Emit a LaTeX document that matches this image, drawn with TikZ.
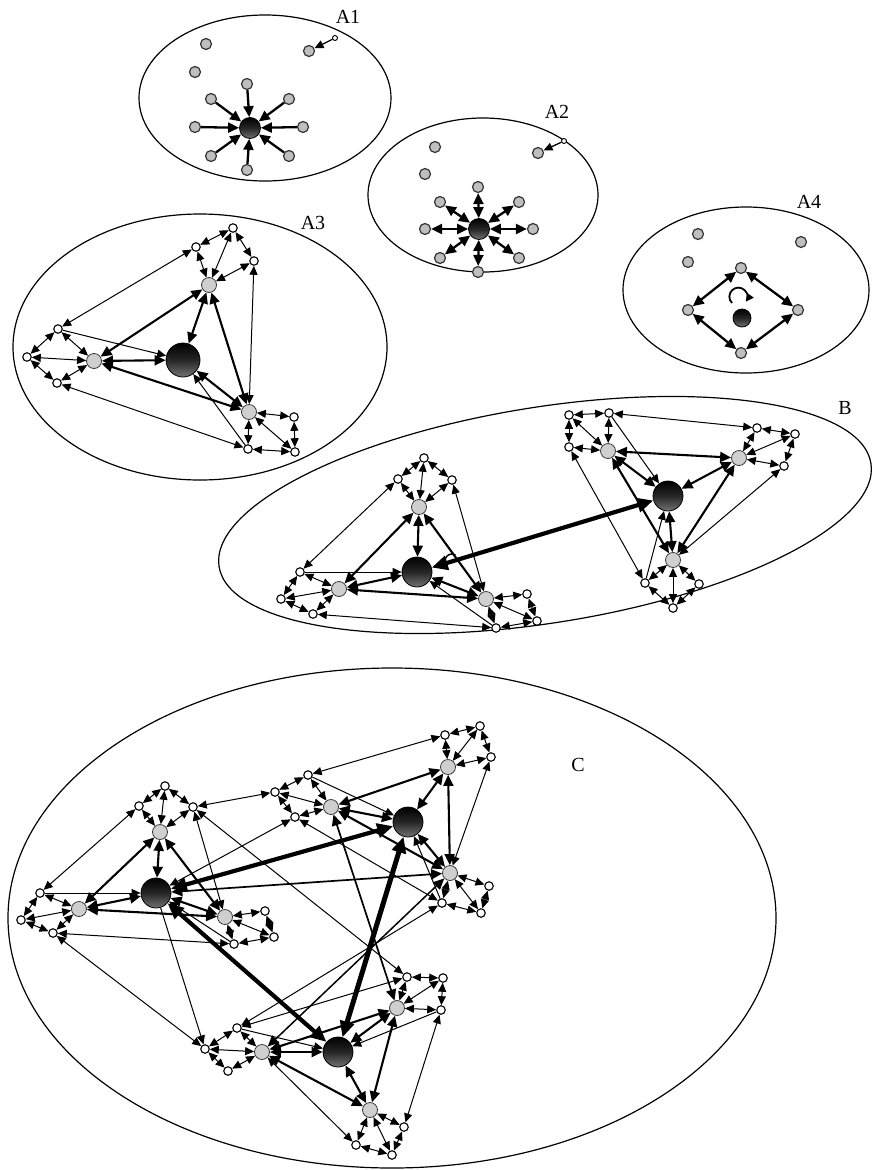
\documentclass[tikz,border=0pt]{standalone}
\usepackage{fontspec}
\setmainfont{Liberation Serif}
\usetikzlibrary{arrows.meta}
\pgfdeclarelayer{back}
\pgfsetlayers{back,main}
\tikzset{
  bk/.style={circle, top color=black, bottom color=black!55, middle color=black!85, draw=black, line width=0.8pt, minimum size=#1, inner sep=0pt},
  bk/.default=32pt,
  hub/.style={circle, fill=gray!38, draw=gray!45!black, line width=0.8pt, minimum size=15pt, inner sep=0pt},
  sm/.style={circle, fill=white, draw=black, line width=1.1pt, minimum size=8.5pt, inner sep=0pt},
  gn/.style={circle, fill=gray!50, draw=gray!40!black, line width=1.2pt, minimum size=11pt, inner sep=0pt},
  wn/.style={circle, fill=white, draw=black, line width=0.9pt, minimum size=5pt, inner sep=0pt},
  da/.style={line width=1pt, {Triangle[length=9pt,width=8pt]}-{Triangle[length=9pt,width=8pt]}},
  dm/.style={line width=2.1pt, {Triangle[length=11pt,width=10pt]}-{Triangle[length=11pt,width=10pt]}},
  dk/.style={line width=4.2pt, {Triangle[length=16pt,width=14pt]}-{Triangle[length=16pt,width=14pt]}},
  sk/.style={line width=2.3pt, -{Triangle[length=11pt,width=10pt]}},
  dd/.style={line width=2.3pt, {Triangle[length=11pt,width=10pt]}-{Triangle[length=11pt,width=10pt]}},
  sa/.style={line width=1pt, -{Triangle[length=9pt,width=8pt]}},
  lbl/.style={font=\fontsize{20}{22}\selectfont, inner sep=0pt},
  ell/.style={line width=1.2pt}
}
\newcommand{\clus}[5]{%
  \node[hub] (#1) at (#2) {};
  \node[sm] (#1a) at (#3) {};
  \node[sm] (#1b) at (#4) {};
  \node[sm] (#1c) at (#5) {};}
\newcommand{\clusE}[1]{%
  \draw[da] (#1)--(#1a); \draw[da] (#1)--(#1b); \draw[da] (#1)--(#1c);
  \draw[da] (#1a)--(#1b); \draw[da] (#1b)--(#1c);}
\newcommand{\triE}[4]{%
  \draw[dm] (#1)--(#2); \draw[dm] (#1)--(#3); \draw[dm] (#1)--(#4);
  \draw[dm] (#2)--(#3); \draw[dm] (#3)--(#4); \draw[dm] (#2)--(#4);}
\begin{document}
\begin{tikzpicture}[x=1pt,y=-1pt]
\useasboundingbox (0,0) rectangle (872,1170);
% ---------- ellipses ----------
\draw[ell] (265,98) ellipse [x radius=126, y radius=83];
\draw[ell] (483,195) ellipse [x radius=115, y radius=77];
\draw[ell] (746,290) ellipse [x radius=123, y radius=83];
\draw[ell] (200,347) ellipse [x radius=187, y radius=133];
\draw[ell, rotate around={9:(545,515)}] (545,515) ellipse [x radius=330, y radius=108];
\draw[ell] (392,918) ellipse [x radius=384, y radius=250];
% ---------- labels ----------
\node[lbl] (la1) at (348,17) {A1};
\node[lbl] (la2) at (557,112) {A2};
\node[lbl] (la4) at (809,202) {A4};
\node[lbl] (la3) at (313,223) {A3};
\node[lbl] (lb) at (845,408) {B};
\node[lbl] (lc) at (578,765) {C};
% ---------- A1 ----------
\node[bk=21pt] (a1k) at (250,128) {};
\node[gn] (a1n1) at (247,84) {};
\node[gn] (a1n2) at (289,99) {};
\node[gn] (a1n3) at (303,127) {};
\node[gn] (a1n4) at (289,156) {};
\node[gn] (a1n5) at (247,170) {};
\node[gn] (a1n6) at (211,156) {};
\node[gn] (a1n7) at (195,127) {};
\node[gn] (a1n8) at (211,99) {};
\node[gn] (a1e1) at (206,44) {};
\node[gn] (a1e2) at (195,72) {};
\node[gn] (a1e3) at (309,51) {};
\node[wn] (a1w) at (335,38) {};
% ---------- A2 ----------
\node[bk=21pt] (a2k) at (479,229) {};
\node[gn] (a2n1) at (478,187) {};
\node[gn] (a2n2) at (519,202) {};
\node[gn] (a2n3) at (533,229) {};
\node[gn] (a2n4) at (519,258) {};
\node[gn] (a2n5) at (478,272) {};
\node[gn] (a2n6) at (440,258) {};
\node[gn] (a2n7) at (425,229) {};
\node[gn] (a2n8) at (440,202) {};
\node[gn] (a2e1) at (435,147) {};
\node[gn] (a2e2) at (425,174) {};
\node[gn] (a2e3) at (538,153) {};
\node[wn] (a2w) at (564,141) {};
% ---------- A4 ----------
\node[bk=18pt] (a4k) at (742,318) {};
\node[gn] (a4e1) at (698,234) {};
\node[gn] (a4e2) at (801,242) {};
\node[gn] (a4e3) at (688,262) {};
\node[gn] (a4t) at (741,268) {};
\node[gn] (a4l) at (688,310) {};
\node[gn] (a4r) at (798,310) {};
\node[gn] (a4b) at (741,353) {};
% ---------- A3 ----------
\node[bk=34pt] (a3k) at (183,360) {};
\clus{a3t}{209,285}{196,247}{233,228}{254,261}
\clus{a3l}{94,361}{58,329}{27,357}{57,383}
\clus{a3r}{249,412}{294,417}{295,452}{248,449}
% ---------- B ----------
\node[bk=30pt] (bk1) at (417,572) {};
\clus{b1t}{419,507}{398,479}{424,458}{452,480}
\clus{b1l}{339,589}{300,572}{281,599}{313,614}
\clus{b1r}{486,599}{527,594}{537,621}{496,628}
\node[bk=30pt] (bk2) at (668,496) {};
\clus{b2l}{608,451}{569,447}{569,415}{609,413}
\clus{b2r}{739,458}{757,428}{795,434}{784,466}
\clus{b2b}{673,560}{645,583}{673,608}{699,584}
% ---------- C ----------
\node[bk=30pt] (c1k) at (156,893) {};
\clus{c1t}{160,832}{139,806}{165,786}{193,807}
\clus{c1l}{79,909}{40,893}{21,920}{53,933}
\clus{c1r}{225,917}{265,911}{274,937}{234,944}
\node[bk=30pt] (c2k) at (408,822) {};
\clus{c2l}{331,807}{308,775}{275,792}{295,817}
\clus{c2t}{448,767}{445,735}{480,726}{491,757}
\clus{c2b}{450,873}{489,886}{481,913}{442,903}
\node[bk=30pt] (c3k) at (338,1052) {};
\clus{c3l}{262,1052}{237,1028}{205,1049}{228,1071}
\clus{c3t}{397,1008}{407,977}{443,978}{441,1010}
\clus{c3b}{370,1110}{404,1127}{392,1155}{356,1145}
% ---------- edges ----------
\begin{pgfonlayer}{back}
  % A1
  \foreach \i in {1,...,8} {\draw[sk] (a1n\i) -- (a1k);}
  \draw[sa, line width=1.3pt] (a1w) -- (a1e3);
  % A2
  \foreach \i in {1,...,8} {\draw[dd] (a2n\i) -- (a2k);}
  \draw[sa, line width=1.3pt] (a2w) -- (a2e3);
  % A4
  \draw[dd] (a4t) -- (a4l);
  \draw[dd] (a4t) -- (a4r);
  \draw[dd] (a4l) -- (a4b);
  \draw[dd] (a4r) -- (a4b);
  \draw[line width=1.8pt, -{Triangle[length=8pt,width=8pt]}] (732,303) arc[start angle=135, end angle=395, radius=9];
  % A3
  \clusE{a3t} \clusE{a3l} \clusE{a3r}
  \triE{a3k}{a3t}{a3l}{a3r}
  \draw[da] (a3ta) -- (a3la);
  \draw[da] (a3tc) -- (a3r);
  \draw[sa] (a3la) -- (a3k);
  \draw[da] (a3lc) -- (a3rc);
  \draw[sa] (a3rc) -- (a3k);
  % B left
  \clusE{b1t} \clusE{b1l} \clusE{b1r}
  \triE{bk1}{b1t}{b1l}{b1r}
  \draw[da] (b1ta) -- (b1la);
  \draw[da] (b1tc) -- (b1r);
  \draw[sa] (b1la) -- (bk1);
  \draw[da] (b1lc) -- (b1rc);
  \draw[sa] (b1rc) -- (bk1);
  \draw[line width=1.5pt] (445,561) arc[start angle=180, end angle=300, radius=7];
  % B right
  \clusE{b2l} \clusE{b2r} \clusE{b2b}
  \triE{bk2}{b2l}{b2r}{b2b}
  \draw[da] (b2lc) -- (b2ra);
  \draw[sa] (b2lc) -- (bk2);
  \draw[da] (b2la) -- (b2ba);
  \draw[da] (b2rc) -- (b2b);
  \draw[sa] (b2ba) -- (bk2);
  \draw[dk] (bk1) -- (bk2);
  % C left
  \clusE{c1t} \clusE{c1l} \clusE{c1r}
  \triE{c1k}{c1t}{c1l}{c1r}
  \draw[da] (c1ta) -- (c1la);
  \draw[da] (c1tc) -- (c1r);
  \draw[sa] (c1la) -- (c1k);
  \draw[da] (c1lc) -- (c1rc);
  \draw[sa] (c1rc) -- (c1k);
  % C top right
  \clusE{c2l} \clusE{c2t} \clusE{c2b}
  \triE{c2k}{c2l}{c2t}{c2b}
  \draw[da] (c2ta) -- (c2la);
  \draw[da] (c2tc) -- (c2b);
  \draw[sa] (c2la) -- (c2k);
  \draw[da] (c2lc) -- (c2bc);
  \draw[sa] (c2bc) -- (c2k);
  % C bottom
  \clusE{c3l} \clusE{c3t} \clusE{c3b}
  \triE{c3k}{c3l}{c3t}{c3b}
  \draw[da] (c3la) -- (c3ta);
  \draw[da] (c3tc) -- (c3ba);
  \draw[sa] (c3la) -- (c3k);
  \draw[da] (c3l) -- (c3bc);
  \draw[sa] (c3tc) -- (c3k);
  % C cross links
  \draw[dk] (c1k) -- (c2k);
  \draw[dk] (c1k) -- (c3k);
  \draw[dk, line width=5pt] (c2k) -- (c3k);
  \draw[da] (c1tc) -- (c2lb);
  \draw[da] (c1k) -- (c2lc);
  \draw[dm, line width=1.7pt] (c1k) -- (c2b);
  \draw[da] (c1tc) -- (c3ta);
  \draw[dm, line width=1.7pt] (c2l) -- (c3t);
  \draw[dm, line width=1.5pt] (c2b) -- (c3l);
  \draw[da] (c2bc) -- (c3la);
  \draw[da] (c1lc) -- (c3lb);
  \draw[sa] (c1k) -- (c3lb);
\end{pgfonlayer}
\end{tikzpicture}
\end{document}
